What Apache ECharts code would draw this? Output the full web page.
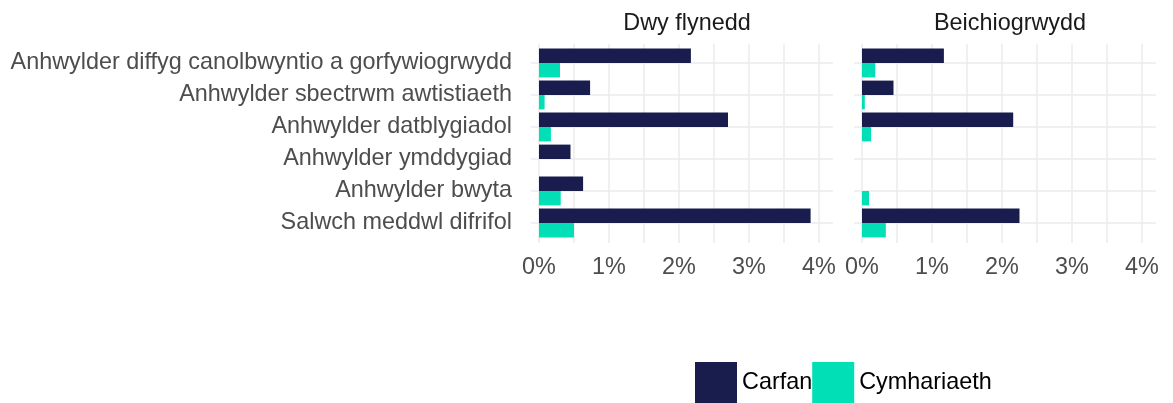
<!DOCTYPE html>
<html>
<head>
<meta charset="utf-8">
<script src="https://cdn.jsdelivr.net/npm/echarts@6.0.0/dist/echarts.min.js"></script>
<style>
  html, body { margin: 0; padding: 0; background: #fff; }
  #chart { width: 1173px; height: 403px; }
</style>
</head>
<body>
<div id="chart"></div>
<script>
  // categories, top to bottom
  const categories = [
    'Anhwylder diffyg canolbwyntio a gorfywiogrwydd',
    'Anhwylder sbectrwm awtistiaeth',
    'Anhwylder datblygiadol',
    'Anhwylder ymddygiad',
    'Anhwylder bwyta',
    'Salwch meddwl difrifol'
  ];
  const panels = ['Dwy flynedd', 'Beichiogrwydd'];
  const groups = ['Carfan', 'Cymhariaeth'];
  const xTicks = [0, 1, 2, 3, 4];

  // values in %
  const carfanDwy = [2.17, 0.73, 2.70, 0.45, 0.63, 3.88];
  const cymhDwy = [0.30, 0.08, 0.17, 0, 0.31, 0.50];
  const carfanBeich = [1.17, 0.45, 2.16, 0, 0, 2.25];
  const cymhBeich = [0.19, 0.04, 0.13, 0, 0.10, 0.34];

  const font = "'Liberation Sans', Arial, sans-serif";
  const fs = 23.4;
  const navy = '#191d4e';
  const teal = '#00dfb5';
  const gridColor = '#ebebeb';

  // panel geometry: 70px per 1%, panel extends 8px left of 0 and to 4.2%
  const zeroX = [539, 862];
  const pxPerUnit = 70;

  const chart = echarts.init(document.getElementById('chart'));

  const grids = [];
  const xAxes = [];
  const yAxes = [];
  const titles = [];

  zeroX.forEach((x0, i) => {
    // background grid with the vertical lines + tick labels
    grids.push({left: x0, top: 44, width: 4 * pxPerUnit, height: 199});
    xAxes.push({
      gridIndex: i, type: 'value', min: 0, max: 4, interval: 0.5,
      axisLine: {show: false}, axisTick: {show: false},
      splitLine: {show: true, lineStyle: {color: gridColor, width: 1.5}},
      axisLabel: {
        margin: 13, fontSize: fs, color: '#4d4d4d', fontFamily: font,
        formatter: v => xTicks.indexOf(v) >= 0 ? v + '%' : ''
      }
    });
    yAxes.push({gridIndex: i, type: 'category', data: categories, show: false});

    titles.push({
      text: panels[i], left: x0 - 8 + 151, top: 7, textAlign: 'center',
      textStyle: {fontSize: fs, fontWeight: 'normal', color: '#1a1a1a', fontFamily: font}
    });
  });

  zeroX.forEach((x0, i) => {
    // bar grid, full panel width
    grids.push({left: x0 - 8, top: 47, width: 302, height: 192});
    xAxes.push({
      gridIndex: 2 + i, type: 'value', min: -8 / pxPerUnit, max: 4.2, show: false,
      splitLine: {show: false}
    });
    yAxes.push({
      gridIndex: 2 + i, type: 'category', data: categories, inverse: true,
      axisLine: {show: false}, axisTick: {show: false}, splitLine: {show: false},
      axisLabel: {
        show: i === 0, margin: 19, fontSize: fs, color: '#4d4d4d', fontFamily: font
      }
    });
  });

  const barSeries = (name, data, color, idx) => ({
    name: name, type: 'bar', data: data,
    xAxisIndex: idx, yAxisIndex: idx,
    barGap: '0%', barCategoryGap: '10%',
    itemStyle: {color: color},
    z: 2
  });

  const lineSeries = idx => ({
    type: 'line', data: [], xAxisIndex: idx, yAxisIndex: idx, z: 0, silent: true,
    markLine: {
      silent: true, symbol: 'none', z: 0, animation: false,
      label: {show: false},
      lineStyle: {color: gridColor, width: 1.5, type: 'solid'},
      data: categories.map(c => ({yAxis: c}))
    }
  });

  chart.setOption({
    animation: false,
    textStyle: {fontFamily: font},
    title: titles,
    grid: grids,
    xAxis: xAxes,
    yAxis: yAxes,
    legend: {
      data: groups, left: 690, top: 357, itemWidth: 42, itemHeight: 42, itemGap: 0,
      icon: 'rect',
      textStyle: {fontSize: fs, color: '#000', fontFamily: font}
    },
    series: [
      lineSeries(2),
      lineSeries(3),
      barSeries(groups[0], carfanDwy, navy, 2),
      barSeries(groups[1], cymhDwy, teal, 2),
      barSeries(groups[0], carfanBeich, navy, 3),
      barSeries(groups[1], cymhBeich, teal, 3)
    ]
  });
</script>
</body>
</html>
